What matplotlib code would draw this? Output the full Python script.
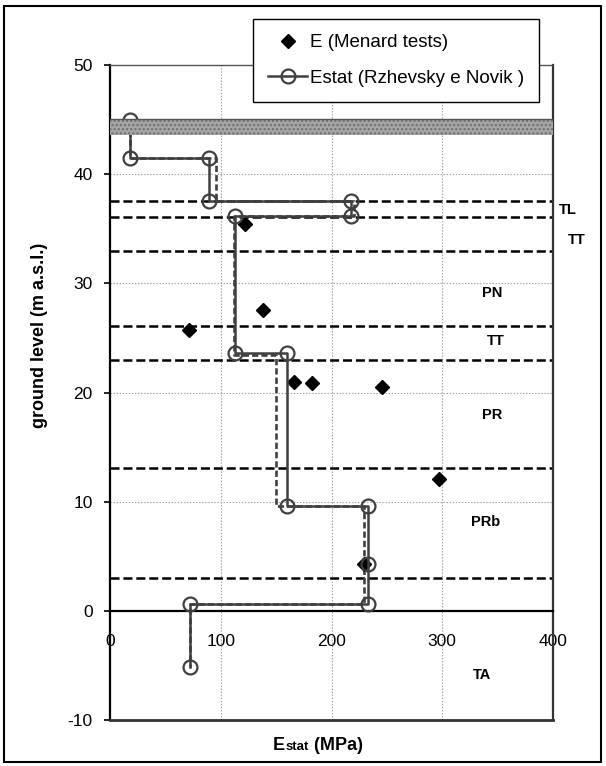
import matplotlib
matplotlib.use("Agg")
import matplotlib.pyplot as plt
from matplotlib.patches import Rectangle
from matplotlib.offsetbox import TextArea, HPacker, AnchoredOffsetbox

plt.rcParams["font.family"] = ["Liberation Sans", "DejaVu Sans"]
plt.rcParams["lines.scale_dashes"] = False
plt.rcParams["axes.unicode_minus"] = False

# Menard pressuremeter tests (E in MPa, level in m a.s.l.)
menard_E = [122, 138, 71, 166, 182, 246, 297, 229]
menard_z = [35.4, 27.6, 25.7, 21.0, 20.9, 20.5, 12.1, 4.3]

# Estat profile (Rzhevsky e Novik)
estat_E = [18, 18, 89, 89, 218, 218, 113, 113, 160, 160, 232.6, 232.6, 232.6, 72, 72]
estat_z = [44.95, 41.5, 41.5, 37.5, 37.5, 36.2, 36.2, 23.6, 23.6, 9.6, 9.6, 4.3, 0.65, 0.65, -5.1]

# second (dashed) stepped profile, no legend entry
step2_E = [18, 18, 96, 96, 220, 220, 112, 112, 149.5, 149.5, 229.5, 229.5, 72, 72]
step2_z = [44.9, 41.5, 41.5, 37.5, 37.5, 36.2, 36.2, 23.4, 23.4, 9.6, 9.6, 0.65, 0.65, -5.1]

# layer boundaries (m a.s.l.)
layer_bounds = [37.5, 36.1, 33.0, 26.1, 23.0, 13.05, 3.05]

# layer names and where they are written
layer_names = ["TL", "TT", "PN", "TT", "PR", "PRb", "TA"]
layer_label_E = [413, 421, 345, 348, 345, 339, 336]
layer_label_z = [36.7, 34.0, 29.1, 24.7, 17.9, 8.1, -5.9]

# ground surface band (fill)
fill_bottom = 43.6
fill_top = 45.05

x_ticks = [0, 100, 200, 300, 400]
y_ticks = [-10, 0, 10, 20, 30, 40, 50]

LINE_GRAY = "#404040"


def main() -> None:
    fig = plt.figure(figsize=(6.06, 7.66), dpi=100)
    ax = fig.add_axes([110 / 606, 1 - 720 / 766, 443 / 606, 655 / 766])

    ax.set_xlim(0, 400)
    ax.set_ylim(-10, 50)
    ax.set_xticks(x_ticks)
    ax.set_yticks(y_ticks)

    # dotted gridlines
    for xv in x_ticks[1:-1]:
        ax.axvline(xv, color="#a0a0a0", linewidth=0.8, linestyle=(0, (1, 1.2)), zorder=0)
    for yv in y_ticks[2:-1]:
        ax.axhline(yv, color="#a0a0a0", linewidth=0.8, linestyle=(0, (1, 1.2)), zorder=0)

    # layer boundaries
    for zb in layer_bounds:
        ax.axhline(zb, color="black", linewidth=1.8, linestyle=(0, (6.5, 2.8)), zorder=1)

    for name, xe, ze in zip(layer_names, layer_label_E, layer_label_z):
        ax.text(xe, ze, name, ha="center", va="center", fontsize=10.5,
                fontweight="bold", clip_on=False)

    ax.plot(step2_E, step2_z, color=LINE_GRAY, linewidth=1.9,
            linestyle=(0, (4.5, 2.2)), zorder=2)
    menard, = ax.plot(menard_E, menard_z, linestyle="none", marker="D", markersize=7,
                      color="black", zorder=3, label="E (Menard tests)")
    estat, = ax.plot(estat_E, estat_z, color=LINE_GRAY, linewidth=1.8, marker="o",
                     markersize=10, markerfacecolor="none", markeredgewidth=1.6,
                     markeredgecolor=LINE_GRAY, zorder=4,
                     label="Estat (Rzhevsky e Novik )")

    # ground surface band
    ax.fill_between([0, 400], fill_bottom, fill_top, facecolor="#a4a4a4",
                    edgecolor="#6e6e6e", hatch="....", linewidth=0, zorder=5)
    ax.plot([0, 400], [fill_top, fill_top], color="#555555", linewidth=1.0, zorder=5)

    # spines, x axis crosses at 0
    ax.spines["bottom"].set_position(("data", 0))
    ax.spines["bottom"].set_linewidth(1.6)
    ax.spines["left"].set_linewidth(1.6)
    ax.spines["right"].set_linewidth(1.6)
    ax.spines["right"].set_color("#333333")
    ax.spines["top"].set_linewidth(1.0)
    ax.spines["top"].set_color("#555555")
    ax.axhline(-10, color="#333333", linewidth=2.0, zorder=6, clip_on=False)

    ax.tick_params(axis="x", length=0, pad=17, labelsize=12.5)
    ax.tick_params(axis="y", length=4.5, width=1.2, pad=8, labelsize=12.5, direction="out")

    fig.text(40 / 606, 1 - 335 / 766, "ground level (m a.s.l.)", rotation=90,
             ha="center", va="center", fontsize=13, fontweight="bold")

    parts = [
        TextArea("E", textprops=dict(fontsize=13, fontweight="bold")),
        TextArea("stat", textprops=dict(fontsize=9.5, fontweight="bold")),
        TextArea(" (MPa)", textprops=dict(fontsize=13, fontweight="bold")),
    ]
    packed = HPacker(children=parts, align="baseline", pad=0, sep=0)
    xlabel = AnchoredOffsetbox(loc="center", child=packed, pad=0, borderpad=0, frameon=False,
                               bbox_to_anchor=(318 / 606, 1 - 746 / 766),
                               bbox_transform=fig.transFigure)
    fig.add_artist(xlabel)

    leg = fig.legend(handles=[menard, estat], loc="upper left",
                     bbox_to_anchor=(253 / 606, 1 - 19 / 766), fontsize=13.5,
                     frameon=True, fancybox=False, edgecolor="black", framealpha=1,
                     handlelength=2.1, labelspacing=1.0, borderpad=0.8,
                     handletextpad=0.15, borderaxespad=0)
    leg.get_frame().set_linewidth(1.0)

    fig.add_artist(Rectangle((4 / 606, 4 / 766), 597 / 606, 756 / 766,
                             transform=fig.transFigure, fill=False,
                             edgecolor="black", linewidth=1.5))

    fig.savefig("out.png", dpi=100)
    plt.close(fig)


if __name__ == "__main__":
    main()
